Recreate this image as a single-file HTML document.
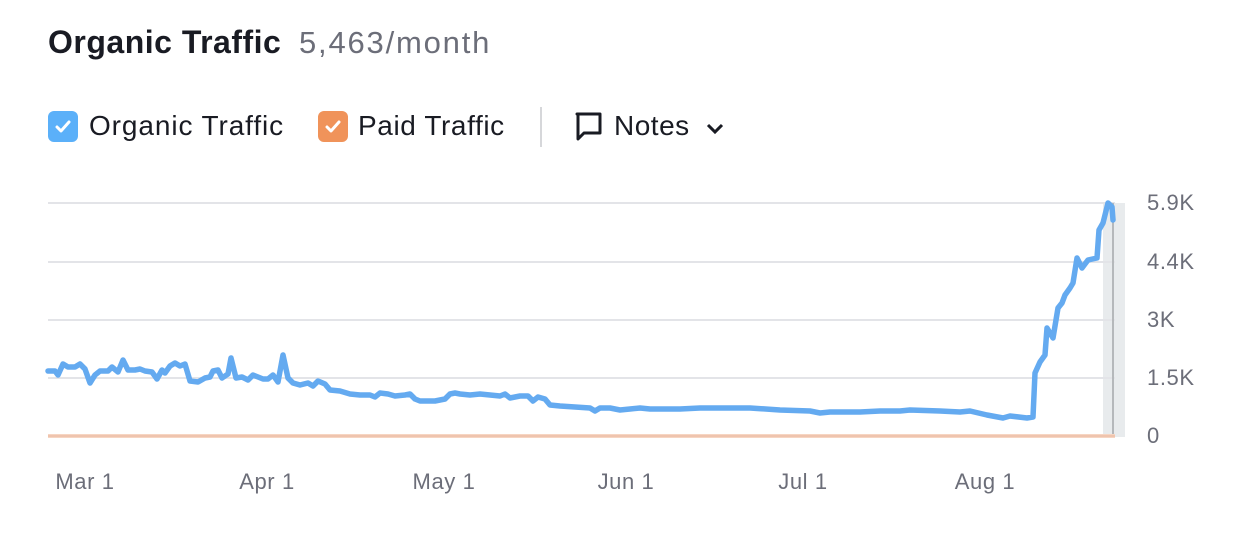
<!DOCTYPE html>
<html><head><meta charset="utf-8"><style>
body{margin:0;background:#fff;width:1246px;height:550px;overflow:hidden;font-family:"Liberation Sans",sans-serif;position:relative}
.t{position:absolute;white-space:nowrap}
.cb{position:absolute;width:30px;height:31px;border-radius:6px;top:111px}
</style></head><body>
<div class="t" style="left:48px;top:24px;font-size:32px;font-weight:bold;color:#191b23;letter-spacing:0.5px">Organic Traffic</div>
<div class="t" style="left:299px;top:25px;font-size:31px;color:#6c6e79;letter-spacing:1.8px">5,463/month</div>
<div class="cb" style="left:48px;background:#5bb0f9"></div>
<svg style="position:absolute;left:48px;top:111px" width="30" height="31"><path d="M9 16 L13 20 L21 11" stroke="#fff" stroke-width="3" fill="none" stroke-linecap="round" stroke-linejoin="round"/></svg>
<div class="t" style="left:89px;top:110px;font-size:28px;color:#191b23;letter-spacing:0.9px">Organic Traffic</div>
<div class="cb" style="left:318px;background:#f0935a"></div>
<svg style="position:absolute;left:318px;top:111px" width="30" height="31"><path d="M9 16 L13 20 L21 11" stroke="#fff" stroke-width="3" fill="none" stroke-linecap="round" stroke-linejoin="round"/></svg>
<div class="t" style="left:358px;top:110px;font-size:28px;color:#191b23;letter-spacing:0.6px">Paid Traffic</div>
<div style="position:absolute;left:540px;top:107px;width:2px;height:40px;background:#d6d7da"></div>
<svg style="position:absolute;left:574px;top:111px" width="30" height="32"><path d="M3 3 H26 V22 H10 L4 28 V3 Z" stroke="#191b23" stroke-width="3" fill="none" stroke-linejoin="round"/></svg>
<div class="t" style="left:614px;top:110px;font-size:28px;color:#191b23;letter-spacing:0.5px">Notes</div>
<svg style="position:absolute;left:705px;top:120px" width="20" height="16"><path d="M3 5 L10 12 L17 5" stroke="#191b23" stroke-width="3" fill="none"/></svg>
<svg style="position:absolute;left:0;top:0" width="1246" height="550">
<rect x="1103" y="203" width="22" height="234" fill="#e8ebed"/>
<g stroke="#e3e4e8" stroke-width="2">
<line x1="48" y1="203" x2="1115" y2="203"/><line x1="48" y1="262" x2="1115" y2="262"/>
<line x1="48" y1="320" x2="1115" y2="320"/><line x1="48" y1="378" x2="1115" y2="378"/></g>
<line x1="1113" y1="203" x2="1113" y2="437" stroke="#b5b8bb" stroke-width="2"/>
<line x1="48" y1="436" x2="1115" y2="436" stroke="#f6d5c2" stroke-width="4"/>
<line x1="48" y1="436" x2="1115" y2="436" stroke="#e8b49a" stroke-width="1"/>
<polyline fill="none" stroke="#64aaf0" stroke-width="5.5" stroke-linejoin="round" stroke-linecap="round" points="48,371 55,371 58,375 63,364 68,367 75,367 80,364 85,369 90,383 95,375 100,371 108,371 112,367 118,372 123,360 128,370 135,370 140,369 145,371 152,372 157,379 162,370 165,373 170,366 175,363 180,366 185,364 190,381 198,382 205,378 210,377 213,371 218,370 222,378 228,374 231,358 236,378 242,377 248,380 253,375 258,377 263,379 268,379 273,375 278,382 283,355 288,378 293,383 300,385 308,383 313,386 318,381 325,384 330,390 340,391 350,394 360,395 370,395 375,397 380,393 388,394 395,396 405,395 410,394 415,399 420,401 435,401 445,399 450,394 455,393 460,394 470,395 480,394 490,395 500,396 505,394 510,398 520,396 528,396 533,401 538,397 545,399 550,405 560,406 575,407 590,408 595,411 600,408 610,408 620,410 630,409 640,408 650,409 680,409 700,408 720,408 750,408 780,410 810,411 820,413 830,412 860,412 880,411 900,411 910,410 940,411 960,412 970,411 987,415 1003,418 1010,416 1027,418 1033,417 1035,373 1040,362 1045,355 1047,328 1053,338 1058,308 1062,303 1065,295 1070,288 1073,283 1077,258 1082,268 1088,260 1097,258 1099,230 1103,223 1108,203 1112,207 1113,220"/>
<g font-size="22" fill="#6c6e79" font-family="Liberation Sans,sans-serif" letter-spacing="0.6">
<text x="1147" y="210">5.9K</text><text x="1147" y="269">4.4K</text><text x="1147" y="327">3K</text><text x="1147" y="385">1.5K</text><text x="1147" y="443">0</text>
<g text-anchor="middle"><text x="85" y="489">Mar 1</text><text x="267" y="489">Apr 1</text><text x="444" y="489">May 1</text><text x="626" y="489">Jun 1</text><text x="803" y="489">Jul 1</text><text x="985" y="489">Aug 1</text></g>
</g>
</svg>
</body></html>
